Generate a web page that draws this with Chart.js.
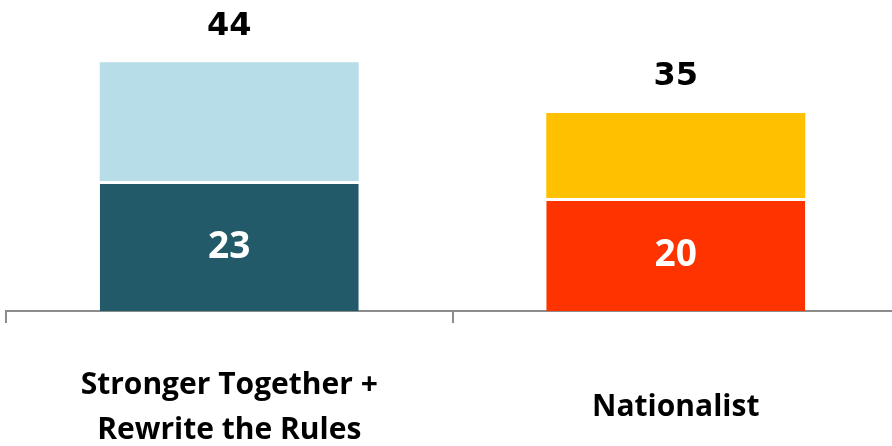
<!DOCTYPE html>
<html>
<head>
<meta charset="utf-8">
<script src="https://cdn.jsdelivr.net/npm/chart.js@4"></script>
<style>
  html, body { margin: 0; padding: 0; background: #fff; overflow: hidden; }
  #wrap { width: 900px; height: 446px; }
</style>
</head>
<body>
<div id="wrap"><canvas id="chart" width="900" height="446"></canvas></div>
<script>
const categories = [['Stronger Together +', 'Rewrite the Rules'], 'Nationalist'];
const baseValues = [23, 20];
const topValues = [21, 15];
const totals = [44, 35];
const baseColors = ['#225a69', '#ff3300'];
const topColors = ['#b7dee8', '#ffc000'];

const fontFamily = '"Open Sans", "Noto Sans", sans-serif';

// segment numbers inside the lower bars, totals above the stacks
const valueLabels = {
    id: 'valueLabels',
    afterDatasetsDraw(chart) {
        const ctx = chart.ctx;
        ctx.save();
        ctx.textAlign = 'center';
        ctx.textBaseline = 'middle';

        ctx.font = 'bold 37px ' + fontFamily;
        ctx.fillStyle = '#ffffff';
        chart.getDatasetMeta(0).data.forEach((bar, i) => {
            ctx.fillText(String(baseValues[i]), bar.x, (bar.y + bar.base) / 2 + 1);
        });

        ctx.font = 'bold 32px "DejaVu Sans", sans-serif';
        ctx.fillStyle = '#000000';
        chart.getDatasetMeta(1).data.forEach((bar, i) => {
            ctx.fillText(String(totals[i]), bar.x, bar.y - 36);
        });
        ctx.restore();
    }
};

const ctx = document.getElementById('chart').getContext('2d');
const chart = new Chart(ctx, {
    type: 'bar',
    data: {
        labels: categories,
        datasets: [{
            data: baseValues,
            backgroundColor: baseColors,
            borderColor: '#ffffff',
            borderWidth: { top: 3, left: 0, right: 0, bottom: 0 },
            borderSkipped: false,
            barPercentage: 0.58,
            categoryPercentage: 1
        }, {
            data: topValues,
            backgroundColor: topColors,
            borderWidth: 0,
            barPercentage: 0.58,
            categoryPercentage: 1
        }]
    },
    options: {
        responsive: false,
        animation: false,
        layout: { padding: { left: 6, right: 1, top: 0, bottom: 0 } },
        plugins: {
            legend: { display: false },
            tooltip: { enabled: false }
        },
        scales: {
            x: {
                stacked: true,
                border: { display: true, color: '#8c8c8c', width: 2 },
                grid: {
                    display: true,
                    drawOnChartArea: false,
                    drawTicks: true,
                    tickLength: 12,
                    color: '#8c8c8c',
                    lineWidth: 2,
                    offset: true
                },
                ticks: {
                    color: '#000000',
                    font: { family: fontFamily, size: 30, weight: 'bold', lineHeight: 1.5 },
                    padding: 62,
                    crossAlign: 'center',
                    maxRotation: 0,
                    autoSkip: false
                },
                afterFit(scale) { scale.height = 135; }
            },
            y: {
                stacked: true,
                display: false,
                min: 0,
                max: 55
            }
        }
    },
    plugins: [valueLabels]
});
</script>
</body>
</html>
